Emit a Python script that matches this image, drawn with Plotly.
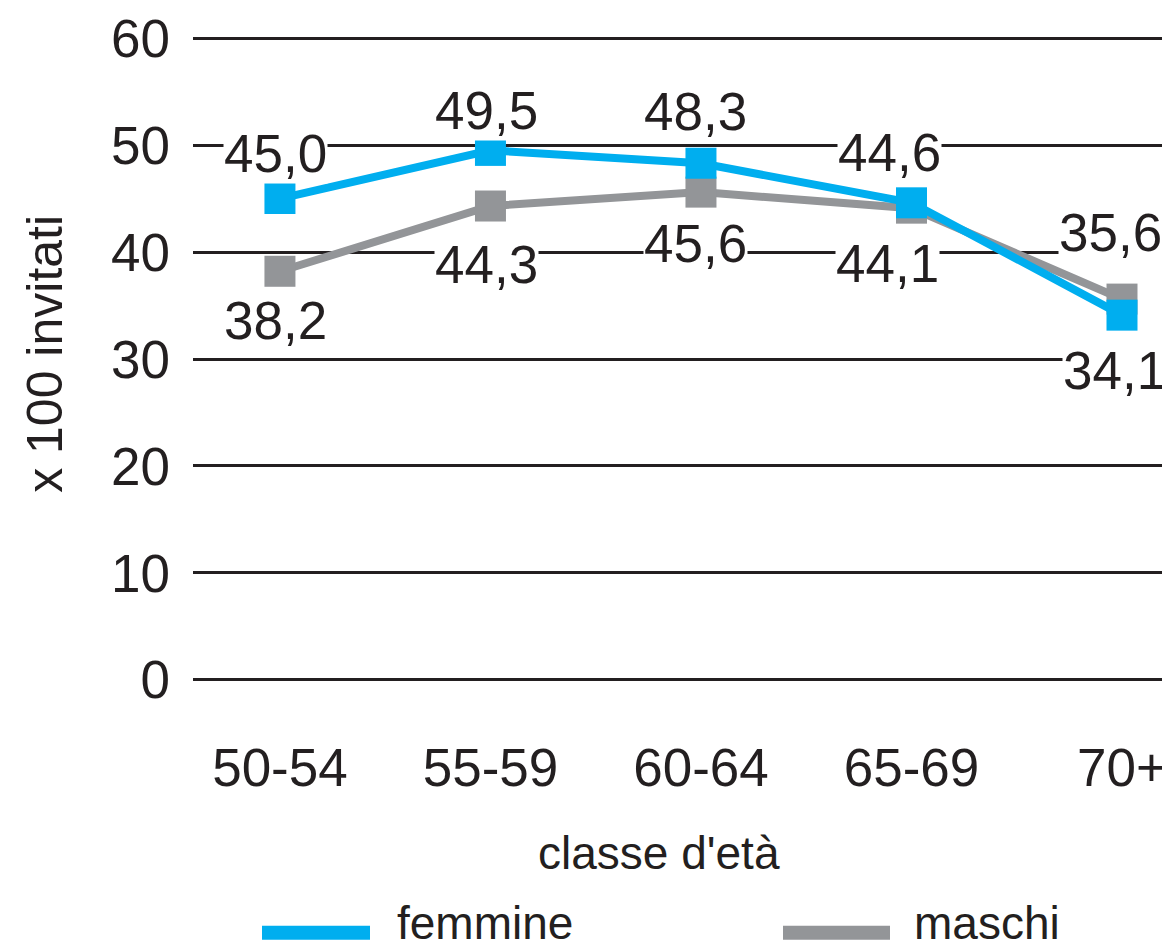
import plotly.graph_objects as go

categories = ["50-54", "55-59", "60-64", "65-69", "70+"]
femmine = [45.0, 49.5, 48.3, 44.6, 34.1]
maschi = [38.2, 44.3, 45.6, 44.1, 35.6]
y_ticks = [0, 10, 20, 30, 40, 50, 60]

BLUE = "#00AEEF"
GREY = "#939598"
INK = "#231F20"
FONT = "Liberation Sans, Arial, sans-serif"

# label offsets (px) relative to each point
fem_shift = [(-4, -45), (-4, -40), (-5, -52), (-22, -50), (-8, 55)]
mas_shift = [(-4, 49), (-4, 58), (-5, 51), (-24, 55), (-12, -67)]

x = list(range(len(categories)))

fig = go.Figure()
fig.add_trace(go.Scatter(x=x, y=maschi, mode="lines+markers", name="maschi",
                         line=dict(color=GREY, width=8),
                         marker=dict(symbol="square", size=31, color=GREY),
                         showlegend=False))
fig.add_trace(go.Scatter(x=x, y=femmine, mode="lines+markers", name="femmine",
                         line=dict(color=BLUE, width=8),
                         marker=dict(symbol="square", size=31, color=BLUE),
                         showlegend=False))

def fmt(v):
    return f"{v:.1f}".replace(".", ",")

anns = []
for series, shifts in ((femmine, fem_shift), (maschi, mas_shift)):
    for i, v in enumerate(series):
        anns.append(dict(x=i, y=v, xref="x", yref="y", text=fmt(v),
                         showarrow=False, xshift=shifts[i][0], yshift=-shifts[i][1],
                         font=dict(family=FONT, size=53, color=INK),
                         bgcolor="white", borderpad=0))

# axis titles
anns.append(dict(text="x 100 invitati", xref="paper", yref="paper", x=0, y=0.508,
                 xshift=-148, textangle=-90, showarrow=False, xanchor="center", yanchor="middle",
                 font=dict(family=FONT, size=50, color=INK)))
anns.append(dict(text="classe d'età", xref="paper", yref="paper", x=(659 - 193) / 977, y=0,
                 yshift=-172, showarrow=False, xanchor="center", yanchor="middle",
                 font=dict(family=FONT, size=46, color=INK)))

# manual legend
legend_items = [("femmine", BLUE, 262, 370, 395), ("maschi", GREY, 783, 890, 912)]
shapes = []
for name, col, x0, x1, tx in legend_items:
    shapes.append(dict(type="line", xref="paper", yref="paper",
                       x0=(x0 - 193) / 977, x1=(x1 - 193) / 977,
                       y0=-(931 - 680) / 642, y1=-(931 - 680) / 642,
                       line=dict(color=col, width=14)))
    anns.append(dict(text=name, xref="paper", yref="paper", x=(tx - 193) / 977,
                     y=-(921 - 680) / 642, xanchor="left", yanchor="middle", showarrow=False,
                     font=dict(family=FONT, size=46, color=INK)))

fig.update_layout(
    width=1162, height=942,
    margin=dict(l=185, r=0, t=29, b=269),
    paper_bgcolor="white", plot_bgcolor="white",
    annotations=anns, shapes=shapes,
    xaxis=dict(range=[-0.413, 4.228], tickmode="array", tickvals=x, ticktext=categories,
               showgrid=False, zeroline=False, showline=False, ticks="",
               tickfont=dict(family=FONT, size=53, color=INK), ticklabelstandoff=51),
    yaxis=dict(range=[-0.1, 60.1], tickmode="array", tickvals=y_ticks,
               showgrid=True, gridcolor=INK, gridwidth=3, zeroline=False,
               showline=False, ticks="",
               tickfont=dict(family=FONT, size=53, color=INK), ticklabelstandoff=22),
)

fig.write_html("out.html")
